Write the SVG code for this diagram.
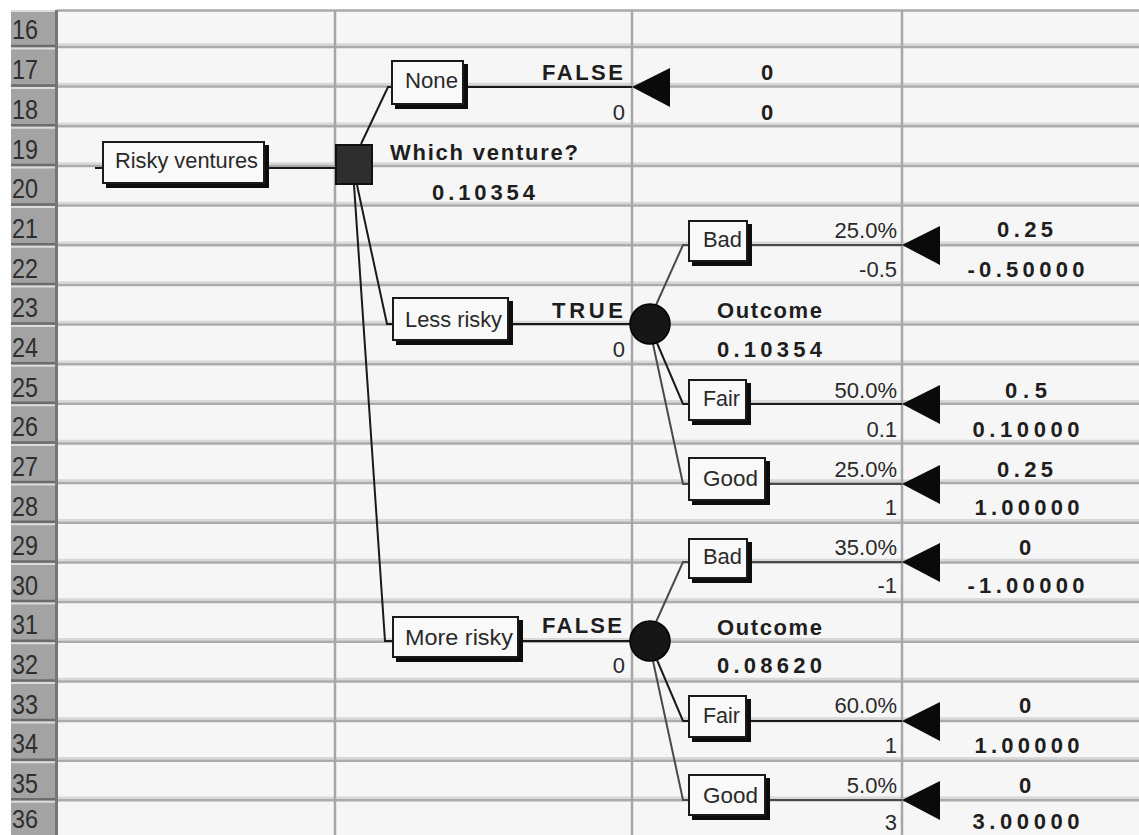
<svg xmlns="http://www.w3.org/2000/svg" width="1139" height="835" viewBox="0 0 1139 835">
<style>
.t{font-family:"Liberation Sans",Arial,sans-serif;font-size:22px;fill:#2a2a2a}
.b{font-weight:bold;fill:#1e1e1e}
.e{text-anchor:end}
.m{text-anchor:middle}
.hd{font-family:"Liberation Sans",Arial,sans-serif;font-size:27px;fill:#2e2e2e}
.box{fill:#f9f9f9;stroke:#1a1a1a;stroke-width:2}
.sh{fill:#0d0d0d}
.gl{stroke:#ababab;stroke-width:2.5;fill:none}
.gl2{stroke:#d8d8d8;stroke-width:2.5;fill:none}
.vl{stroke:#a6a6a6;stroke-width:2.5;fill:none}
.c{stroke:#1a1a1a;stroke-width:2;fill:none}
.cg{stroke:#4a4a4a;stroke-width:2;fill:none}
.tri{fill:#0a0a0a}
</style>
<rect x="0" y="0" width="1139" height="835" fill="#ffffff"/>
<g id="grid">
<rect x="57" y="10" width="1082" height="825" fill="#f6f6f6"/>
<path class="gl2" d="M57 44.5H1139M57 84.1H1139M57 123.8H1139M57 163.4H1139M57 203.1H1139M57 242.7H1139M57 282.4H1139M57 322H1139M57 361.7H1139M57 401.3H1139M57 441H1139M57 480.6H1139M57 520.3H1139M57 559.9H1139M57 599.6H1139M57 639.2H1139M57 678.9H1139M57 718.5H1139M57 758.2H1139M57 797.8H1139"/>
<path class="gl" d="M57 10.5H1139M57 47H1139M57 86.6H1139M57 126.3H1139M57 165.9H1139M57 205.6H1139M57 245.2H1139M57 284.9H1139M57 324.5H1139M57 364.2H1139M57 403.8H1139M57 443.5H1139M57 483.1H1139M57 522.8H1139M57 562.4H1139M57 602.1H1139M57 641.7H1139M57 681.4H1139M57 721H1139M57 760.7H1139M57 800.3H1139"/>
<path class="vl" d="M335 10V835M632 10V835M902 10V835"/>
<rect x="11" y="10" width="45" height="825" fill="#a3a3a3"/>
<path stroke="#6c6c6c" stroke-width="2.5" d="M11 46H56M11 85.6H56M11 125.3H56M11 164.9H56M11 204.6H56M11 244.2H56M11 283.9H56M11 323.5H56M11 363.2H56M11 402.8H56M11 442.5H56M11 482.1H56M11 521.8H56M11 561.4H56M11 601.1H56M11 640.7H56M11 680.4H56M11 720H56M11 759.7H56M11 799.3H56"/>
<path stroke="#dcdcdc" stroke-width="2" d="M11 11H56M11 48.5H56M11 88.1H56M11 127.8H56M11 167.4H56M11 207.1H56M11 246.7H56M11 286.4H56M11 326H56M11 365.7H56M11 405.3H56M11 445H56M11 484.6H56M11 524.3H56M11 563.9H56M11 603.6H56M11 643.2H56M11 682.9H56M11 722.5H56M11 762.2H56M11 801.8H56"/>
<path stroke="#767676" stroke-width="3" d="M56.5 10V835"/>
<g class="hd">
<text x="12" y="39" textLength="26" lengthAdjust="spacingAndGlyphs">16</text>
<text x="12" y="79" textLength="26" lengthAdjust="spacingAndGlyphs">17</text>
<text x="12" y="119" textLength="26" lengthAdjust="spacingAndGlyphs">18</text>
<text x="12" y="158.5" textLength="26" lengthAdjust="spacingAndGlyphs">19</text>
<text x="12" y="198" textLength="26" lengthAdjust="spacingAndGlyphs">20</text>
<text x="12" y="238" textLength="26" lengthAdjust="spacingAndGlyphs">21</text>
<text x="12" y="277.5" textLength="26" lengthAdjust="spacingAndGlyphs">22</text>
<text x="12" y="317" textLength="26" lengthAdjust="spacingAndGlyphs">23</text>
<text x="12" y="357" textLength="26" lengthAdjust="spacingAndGlyphs">24</text>
<text x="12" y="396.5" textLength="26" lengthAdjust="spacingAndGlyphs">25</text>
<text x="12" y="436" textLength="26" lengthAdjust="spacingAndGlyphs">26</text>
<text x="12" y="475.5" textLength="26" lengthAdjust="spacingAndGlyphs">27</text>
<text x="12" y="515.5" textLength="26" lengthAdjust="spacingAndGlyphs">28</text>
<text x="12" y="555" textLength="26" lengthAdjust="spacingAndGlyphs">29</text>
<text x="12" y="594.5" textLength="26" lengthAdjust="spacingAndGlyphs">30</text>
<text x="12" y="634" textLength="26" lengthAdjust="spacingAndGlyphs">31</text>
<text x="12" y="674" textLength="26" lengthAdjust="spacingAndGlyphs">32</text>
<text x="12" y="713.5" textLength="26" lengthAdjust="spacingAndGlyphs">33</text>
<text x="12" y="753" textLength="26" lengthAdjust="spacingAndGlyphs">34</text>
<text x="12" y="793" textLength="26" lengthAdjust="spacingAndGlyphs">35</text>
<text x="12" y="828" font-size="25" textLength="26" lengthAdjust="spacingAndGlyphs">36</text>
</g>
</g>
<g id="connectors">
<path class="c" d="M95 168H103M266 168H335"/>
<path class="c" d="M361 144L388 87H392M465 87H632"/>
<path class="c" d="M357 185L387 324H393M510 324H630"/>
<path class="c" d="M354 185L385 641H393M520 641H630"/>
<path class="cg" d="M656 305L683 245H689M749 245H902"/>
<path class="c" d="M657 343L683 404H689M748 404H902"/>
<path class="cg" d="M653 344L683 484H689M767 484H902"/>
<path class="cg" d="M656 622L683 562H689M749 562H902"/>
<path class="c" d="M657 660L683 721H689M748 721H902"/>
<path class="cg" d="M653 661L683 800H689M767 800H902"/>
</g>
<g id="node-risky-ventures">
<rect class="sh" x="106" y="145" width="163" height="43"/>
<rect class="box" x="103" y="142" width="161" height="41"/>
<text class="t" x="115" y="168" font-size="23" textLength="143" lengthAdjust="spacingAndGlyphs">Risky ventures</text>
</g>
<g id="node-decision">
<rect x="336" y="145" width="36" height="39" fill="#2e2e2e" stroke="#111" stroke-width="2"/>
<text class="t b" x="390" y="160" textLength="188" lengthAdjust="spacing">Which venture?</text>
<text class="t b" x="432" y="200" textLength="103" lengthAdjust="spacing">0.10354</text>
</g>
<g id="node-none">
<rect class="sh" x="395" y="64" width="73" height="45"/>
<rect class="box" x="392" y="61" width="71" height="43"/>
<text class="t" x="405" y="88" font-size="23" textLength="53" lengthAdjust="spacingAndGlyphs">None</text>
<text class="t b" x="542" y="80" textLength="81" lengthAdjust="spacing">FALSE</text>
<text class="t e" x="625" y="120">0</text>
</g>
<g id="node-none-end">
<polygon class="tri" points="632,87 670,68 670,107"/>
<text class="t b m" x="767" y="80">0</text>
<text class="t b m" x="767" y="120">0</text>
</g>
<g id="node-less-risky">
<rect class="sh" x="396" y="301" width="117" height="44"/>
<rect class="box" x="393" y="298" width="115" height="42"/>
<text class="t" x="405" y="327" font-size="23" textLength="97" lengthAdjust="spacingAndGlyphs">Less risky</text>
<text class="t b" x="552" y="318" textLength="71" lengthAdjust="spacing">TRUE</text>
<text class="t e" x="625" y="357">0</text>
</g>
<g id="node-outcome-1">
<circle cx="650" cy="324" r="20" fill="#161616" stroke="#000" stroke-width="1.5"/>
<text class="t b" x="717" y="318" textLength="105" lengthAdjust="spacing">Outcome</text>
<text class="t b" x="717" y="357" textLength="105" lengthAdjust="spacing">0.10354</text>
</g>
<g id="node-bad-1">
<rect class="sh" x="692" y="224" width="60" height="42"/>
<rect class="box" x="689" y="221" width="58" height="40"/>
<text class="t" x="703" y="247" font-size="23" textLength="39" lengthAdjust="spacingAndGlyphs">Bad</text>
<text class="t e" x="897" y="238">25.0%</text>
<text class="t e" x="897" y="277">-0.5</text>
</g>
<g id="node-bad-1-end">
<polygon class="tri" points="902,245 940,226 940,265"/>
<text class="t b m" x="1025" y="237" textLength="56" lengthAdjust="spacing">0.25</text>
<text class="t b m" x="1026" y="277" textLength="117" lengthAdjust="spacing">-0.50000</text>
</g>
<g id="node-fair-1">
<rect class="sh" x="692" y="383" width="59" height="42"/>
<rect class="box" x="689" y="380" width="57" height="40"/>
<text class="t" x="703" y="406" font-size="23" textLength="37" lengthAdjust="spacingAndGlyphs">Fair</text>
<text class="t e" x="897" y="398">50.0%</text>
<text class="t e" x="897" y="437">0.1</text>
</g>
<g id="node-fair-1-end">
<polygon class="tri" points="902,404 940,385 940,424"/>
<text class="t b m" x="1026" y="398" textLength="42" lengthAdjust="spacing">0.5</text>
<text class="t b m" x="1026" y="437" textLength="107" lengthAdjust="spacing">0.10000</text>
</g>
<g id="node-good-1">
<rect class="sh" x="692" y="461" width="78" height="44"/>
<rect class="box" x="689" y="458" width="76" height="42"/>
<text class="t" x="703" y="486" font-size="23" textLength="55" lengthAdjust="spacingAndGlyphs">Good</text>
<text class="t e" x="897" y="477">25.0%</text>
<text class="t e" x="897" y="515">1</text>
</g>
<g id="node-good-1-end">
<polygon class="tri" points="902,484 940,465 940,504"/>
<text class="t b m" x="1025" y="477" textLength="56" lengthAdjust="spacing">0.25</text>
<text class="t b m" x="1027" y="515" textLength="105" lengthAdjust="spacing">1.00000</text>
</g>
<g id="node-more-risky">
<rect class="sh" x="396" y="620" width="127" height="42"/>
<rect class="box" x="393" y="617" width="125" height="40"/>
<text class="t" x="405" y="645" font-size="23" textLength="108" lengthAdjust="spacingAndGlyphs">More risky</text>
<text class="t b" x="542" y="633" textLength="80" lengthAdjust="spacing">FALSE</text>
<text class="t e" x="625" y="673">0</text>
</g>
<g id="node-outcome-2">
<circle cx="650" cy="641" r="20" fill="#161616" stroke="#000" stroke-width="1.5"/>
<text class="t b" x="717" y="635" textLength="105" lengthAdjust="spacing">Outcome</text>
<text class="t b" x="717" y="673" textLength="105" lengthAdjust="spacing">0.08620</text>
</g>
<g id="node-bad-2">
<rect class="sh" x="692" y="542" width="60" height="41"/>
<rect class="box" x="689" y="539" width="58" height="39"/>
<text class="t" x="703" y="564" font-size="23" textLength="39" lengthAdjust="spacingAndGlyphs">Bad</text>
<text class="t e" x="897" y="555">35.0%</text>
<text class="t e" x="897" y="593">-1</text>
</g>
<g id="node-bad-2-end">
<polygon class="tri" points="902,562 940,543 940,582"/>
<text class="t b m" x="1025" y="555">0</text>
<text class="t b m" x="1026" y="593" textLength="117" lengthAdjust="spacing">-1.00000</text>
</g>
<g id="node-fair-2">
<rect class="sh" x="692" y="699" width="59" height="43"/>
<rect class="box" x="689" y="696" width="57" height="41"/>
<text class="t" x="703" y="723" font-size="23" textLength="37" lengthAdjust="spacingAndGlyphs">Fair</text>
<text class="t e" x="897" y="713">60.0%</text>
<text class="t e" x="897" y="753">1</text>
</g>
<g id="node-fair-2-end">
<polygon class="tri" points="902,721 940,702 940,741"/>
<text class="t b m" x="1025" y="713">0</text>
<text class="t b m" x="1027" y="753" textLength="105" lengthAdjust="spacing">1.00000</text>
</g>
<g id="node-good-2">
<rect class="sh" x="692" y="778" width="78" height="42"/>
<rect class="box" x="689" y="775" width="76" height="40"/>
<text class="t" x="703" y="803" font-size="23" textLength="55" lengthAdjust="spacingAndGlyphs">Good</text>
<text class="t e" x="897" y="793">5.0%</text>
<text class="t e" x="897" y="830">3</text>
</g>
<g id="node-good-2-end">
<polygon class="tri" points="902,800 940,781 940,820"/>
<text class="t b m" x="1025" y="793">0</text>
<text class="t b m" x="1026" y="829" textLength="107" lengthAdjust="spacing">3.00000</text>
</g>
</svg>
